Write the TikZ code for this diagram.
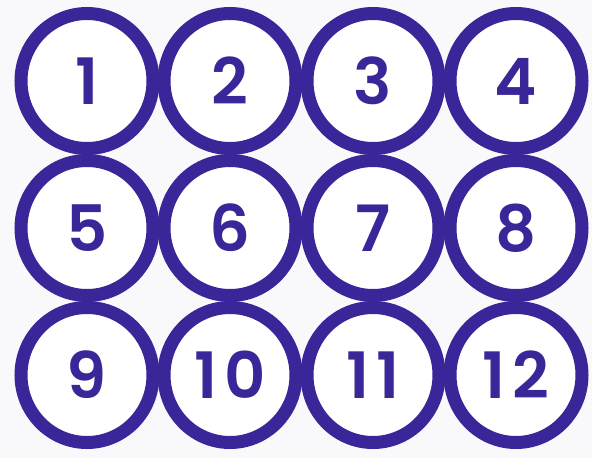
\documentclass[tikz,border=0pt]{standalone}
\usepackage{fontspec}
\setmainfont{Poppins}[BoldFont={Poppins SemiBold}]
\newfontfamily\digitfont{Poppins SemiBold}[LetterSpace=10]
\usetikzlibrary{shapes.geometric}
\definecolor{ringcol}{RGB}{58,38,152}
\definecolor{bgcol}{RGB}{249,249,251}
\tikzset{
  ring/.style={ellipse, draw=ringcol, line width=13pt, fill=white,
    minimum width=132pt, minimum height=135pt, inner sep=0pt,
    text=ringcol, font=\digitfont\fontsize{64}{64}\selectfont}
}
\begin{document}
\begin{tikzpicture}[x=1pt,y=-1pt]
\fill[bgcol] (0,0) rectangle (592,458);
\useasboundingbox (0,0) rectangle (592,458);
\node[ring] (c1) at (87,81) {1};
\node[ring] (c2) at (230,81) {2};
\node[ring] (c3) at (373,81) {3};
\node[ring] (c4) at (516,81) {4};
\node[ring] (c5) at (87,228) {5};
\node[ring] (c6) at (230,228) {6};
\node[ring] (c7) at (373,228) {7};
\node[ring] (c8) at (516,228) {8};
\node[ring] (c9) at (87,375) {9};
\node[ring] (c10) at (230,375) {10};
\node[ring] (c11) at (373,375) {11};
\node[ring] (c12) at (516,375) {12};
\end{tikzpicture}
\end{document}
